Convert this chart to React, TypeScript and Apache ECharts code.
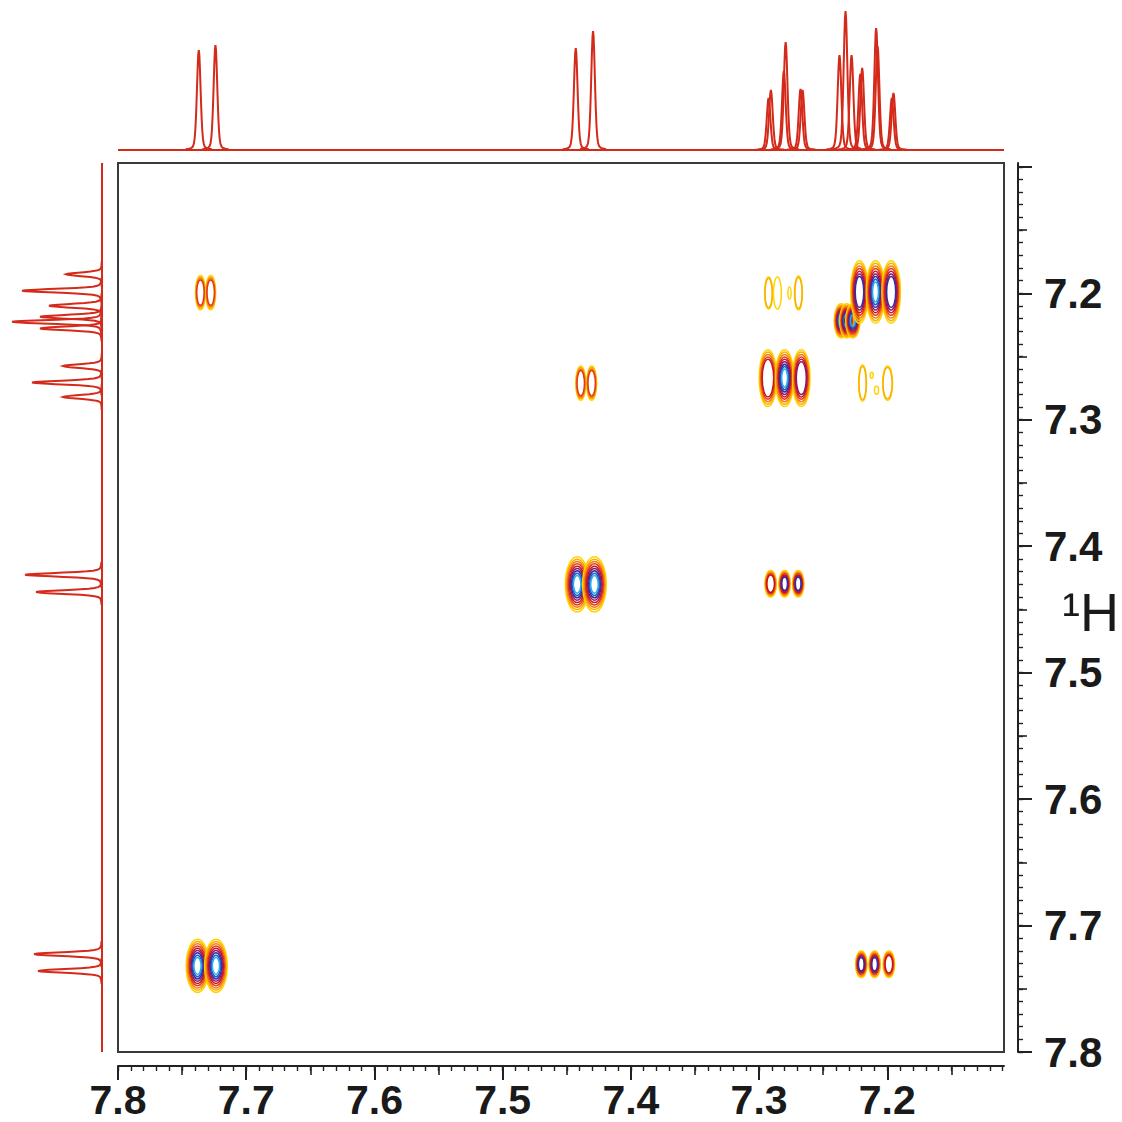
import React, { useEffect, useRef } from "react";
import * as echarts from "echarts";

// ---- axis ranges (ppm) ----
const X_MIN = 7.109;
const X_MAX = 7.8;
const Y_MIN = 7.097;
const Y_MAX = 7.8;

// ---- tick values ----
const xMajorTicks = [7.8, 7.7, 7.6, 7.5, 7.4, 7.3, 7.2];
const xLabelValues = [7.8, 7.7, 7.6, 7.5, 7.4, 7.3, 7.2];
const xMediumTicks = [7.75, 7.65, 7.55, 7.45, 7.35, 7.25, 7.15];
const xMinorTicks = Array.from({ length: 70 }, (_, i) => +(7.11 + i * 0.01).toFixed(2));
const yMajorTicks = [7.1, 7.2, 7.3, 7.4, 7.5, 7.6, 7.7, 7.8];
const yLabelValues = [7.2, 7.3, 7.4, 7.5, 7.6, 7.7, 7.8];
const yMediumTicks = [7.15, 7.25, 7.35, 7.45, 7.55, 7.65, 7.75];
const yMinorTicks = Array.from({ length: 71 }, (_, i) => +(7.1 + i * 0.01).toFixed(2));

// ---- 1D projection on top (F2): peak positions (ppm) and heights ----
const topPeakPpm = [
  7.737, 7.724, 7.443, 7.4295, 7.2926, 7.2908, 7.2807, 7.2793, 7.2677, 7.2661,
  7.2373, 7.2326, 7.2279, 7.2211, 7.2196, 7.2087, 7.2076, 7.1965, 7.1952,
];
const topPeakHeight = [
  100, 105, 102, 119, 52, 60, 79, 108, 61, 60,
  95, 139, 95, 76, 82, 122, 104, 52, 57,
];

// ---- 1D projection on the left (F1) ----
const leftPeakPpm = [
  7.185, 7.198, 7.2099, 7.2186, 7.2226, 7.2278, 7.2576, 7.2706, 7.282,
  7.4226, 7.4363, 7.7226, 7.7359,
];
const leftPeakHeight = [36, 80, 53, 62, 90, 62, 39, 70, 39, 77, 66, 68, 64];

const PEAK_HWHM = 0.0017; // ppm

// ---- 2D cross-peak components ----
const contourX = [
  // diagonal 7.73
  7.738, 7.7236,
  // diagonal 7.43
  7.4419, 7.4284,
  // cross 7.73 / 7.20
  7.7357, 7.7277,
  // cross 7.43 / 7.27
  7.4391, 7.4306,
  // diagonal 7.27
  7.2931, 7.2801, 7.2671,
  // cross 7.27 / 7.43
  7.291, 7.2801, 7.2695,
  // cross 7.20 / 7.73
  7.2203, 7.2099, 7.1988,
  // diagonal 7.22 components
  7.2359, 7.2316, 7.2269,
  // diagonal 7.20
  7.2217, 7.2092, 7.197,
  // weak cross 7.27 / 7.20
  7.2926, 7.2857, 7.2763, 7.2693,
  // weak cross 7.20 / 7.27
  7.2193, 7.2122, 7.2084, 7.1998,
];
const contourY = [
  7.7319, 7.7319,
  7.4302, 7.4302,
  7.1995, 7.1995,
  7.2711, 7.2711,
  7.2671, 7.2671, 7.2671,
  7.4297, 7.4297, 7.4297,
  7.7306, 7.7306, 7.7306,
  7.2218, 7.2218, 7.2218,
  7.199, 7.199, 7.199,
  7.1998, 7.1998, 7.1998, 7.1998,
  7.2711, 7.2648, 7.2767, 7.2711,
];
const contourLevels = [
  9, 9,
  9, 9,
  4, 4,
  4, 4,
  5, 9, 6,
  5, 7, 7,
  7, 7, 5,
  9, 10, 9,
  7, 9, 7,
  2, 1, 1, 2,
  2, 1, 1, 2,
];
const contourHalfWidth = [
  0.0088, 0.0088,
  0.0092, 0.0092,
  0.0039, 0.0039,
  0.0039, 0.0039,
  0.0068, 0.0072, 0.0068,
  0.0045, 0.0045, 0.0045,
  0.0045, 0.0045, 0.0045,
  0.0056, 0.0056, 0.0056,
  0.0068, 0.0072, 0.0072,
  0.0031, 0.0031, 0.0012, 0.0031,
  0.0031, 0.0012, 0.0016, 0.0039,
];
const contourHalfHeight = [
  0.021, 0.021,
  0.0218, 0.0218,
  0.0135, 0.0135,
  0.0135, 0.0135,
  0.0225, 0.0225, 0.0225,
  0.0105, 0.0105, 0.0105,
  0.0105, 0.0105, 0.0105,
  0.0135, 0.0135, 0.0135,
  0.0248, 0.0248, 0.0248,
  0.0127, 0.0127, 0.0048, 0.0135,
  0.0143, 0.0024, 0.0032, 0.0135,
];

const LEVEL_COLORS = [
  "#FFD500", "#FBAE00", "#F47A12", "#E23A1A", "#C8141E",
  "#8A1A6A", "#3A2AA0", "#1C5FC8", "#2AAEE6", "#111111",
];
const SPEC_COLOR = "#D42A1A";
const AXIS_COLOR = "#222222";
const FONT = "'Liberation Sans', Arial, sans-serif";

const T_SAMPLES = [
  -6, -4.5, -3.5, -2.8, -2.3, -1.9, -1.6, -1.3, -1, -0.75, -0.5, -0.25, 0,
  0.25, 0.5, 0.75, 1, 1.3, 1.6, 1.9, 2.3, 2.8, 3.5, 4.5, 6,
];

// mixed Gaussian/Lorentzian line shape profile (unit height), t in HWHM units
function profile(t: number) {
  return 0.75 * Math.exp(-Math.LN2 * t * t) + 0.25 / (1 + t * t);
}

function renderTopPeak(_params: any, api: any) {
  const ppm = api.value(0);
  const h = api.value(1);
  const base = api.coord([ppm, 0]);
  const g = api.size([PEAK_HWHM, 0])[0];
  const hp = api.size([0, h])[1];
  const pts = T_SAMPLES.map((t) => [base[0] + t * g, base[1] - hp * profile(t)]);
  return {
    type: "polyline",
    shape: { points: pts },
    style: { stroke: SPEC_COLOR, lineWidth: 2, fill: "none" },
  };
}

function renderLeftPeak(_params: any, api: any) {
  const h = api.value(0);
  const ppm = api.value(1);
  const base = api.coord([0, ppm]);
  const g = api.size([0, PEAK_HWHM])[1];
  const hp = api.size([h, 0])[0];
  const pts = T_SAMPLES.map((t) => [base[0] - hp * profile(t), base[1] + t * g]);
  return {
    type: "polyline",
    shape: { points: pts },
    style: { stroke: SPEC_COLOR, lineWidth: 2, fill: "none" },
  };
}

function renderContour(_params: any, api: any) {
  const c = api.coord([api.value(0), api.value(1)]);
  const n = api.value(2);
  const s = api.size([api.value(3), api.value(4)]);
  const children: any[] = [];
  for (let i = 0; i < n; i++) {
    const k = 1 - i * 0.085;
    children.push({
      type: "ellipse",
      shape: { cx: c[0], cy: c[1], rx: s[0] * k, ry: s[1] * k },
      style: { fill: "none", stroke: LEVEL_COLORS[i], lineWidth: 1.5 },
    });
  }
  return { type: "group", children };
}

function tickAxis(kind: "x" | "y", values: number[], len: number, width: number, withLine: boolean, labels?: number[]) {
  return {
    type: "value",
    gridIndex: 0,
    min: kind === "x" ? X_MIN : Y_MIN,
    max: kind === "x" ? X_MAX : Y_MAX,
    inverse: true,
    position: kind === "x" ? "bottom" : "right",
    offset: 14,
    axisLine: { show: withLine, onZero: false, lineStyle: { color: AXIS_COLOR, width: 2 } },
    axisTick: { show: true, inside: false, length: len, customValues: values, lineStyle: { color: AXIS_COLOR, width } },
    splitLine: { show: false },
    axisLabel: labels
      ? {
          show: true,
          customValues: labels,
          formatter: (v: number) => v.toFixed(1),
          fontFamily: FONT,
          fontWeight: "bold",
          fontSize: kind === "x" ? 41 : 42,
          lineHeight: kind === "x" ? 36 : 34,
          color: "#1a1a1a",
          margin: kind === "x" ? 16 : 26,
        }
      : { show: false },
  } as any;
}

export default function App() {
  const ref = useRef<HTMLDivElement>(null);
  useEffect(() => {
    if (!ref.current) return;
    const chart = echarts.init(ref.current, null, { renderer: "svg" });

    const contourData = contourX.map((x, i) => [
      x, contourY[i], contourLevels[i], contourHalfWidth[i], contourHalfHeight[i],
    ]);
    const topData = topPeakPpm.map((p, i) => [p, topPeakHeight[i]]);
    const leftData = leftPeakPpm.map((p, i) => [leftPeakHeight[i], p]);

    const option: any = {
      animation: false,
      backgroundColor: "#ffffff",
      grid: [
        { left: 118, top: 163, width: 886, height: 889, show: true, borderColor: "#3a3a3a", borderWidth: 2, backgroundColor: "transparent" },
        { left: 118, top: 5, width: 886, height: 145, show: false },
        { left: 7, top: 163, width: 95, height: 889, show: false },
      ],
      xAxis: [
        { type: "value", gridIndex: 0, min: X_MIN, max: X_MAX, inverse: true, show: false },
        tickAxis("x", xMajorTicks, 14, 2, true, xLabelValues),
        tickAxis("x", xMediumTicks, 9, 1.6, false),
        tickAxis("x", xMinorTicks, 5, 1.4, false),
        { type: "value", gridIndex: 1, min: X_MIN, max: X_MAX, inverse: true, show: false },
        { type: "value", gridIndex: 2, min: 0, max: 95, inverse: true, show: false },
      ],
      yAxis: [
        { type: "value", gridIndex: 0, min: Y_MIN, max: Y_MAX, inverse: true, show: false },
        tickAxis("y", yMajorTicks, 14, 2, true, yLabelValues),
        tickAxis("y", yMediumTicks, 9, 1.6, false),
        tickAxis("y", yMinorTicks, 5, 1.4, false),
        { type: "value", gridIndex: 1, min: 0, max: 145, show: false },
        { type: "value", gridIndex: 2, min: Y_MIN, max: Y_MAX, inverse: true, show: false },
      ],
      series: [
        {
          type: "custom",
          name: "COSY",
          coordinateSystem: "cartesian2d",
          xAxisIndex: 0,
          yAxisIndex: 0,
          clip: true,
          renderItem: renderContour,
          data: contourData,
          silent: true,
        },
        {
          type: "line",
          xAxisIndex: 4,
          yAxisIndex: 4,
          data: [[X_MIN, 0], [X_MAX, 0]],
          symbol: "none",
          lineStyle: { color: SPEC_COLOR, width: 2 },
          silent: true,
        },
        {
          type: "custom",
          xAxisIndex: 4,
          yAxisIndex: 4,
          renderItem: renderTopPeak,
          data: topData,
          silent: true,
        },
        {
          type: "line",
          xAxisIndex: 5,
          yAxisIndex: 5,
          data: [[0, Y_MIN], [0, Y_MAX]],
          symbol: "none",
          lineStyle: { color: SPEC_COLOR, width: 2 },
          silent: true,
        },
        {
          type: "custom",
          xAxisIndex: 5,
          yAxisIndex: 5,
          renderItem: renderLeftPeak,
          data: leftData,
          silent: true,
        },
      ],
      graphic: [
        {
          type: "text",
          x: 1062,
          y: 612,
          style: {
            text: "¹H",
            fontFamily: FONT,
            fontSize: 54,
            fill: "#1a1a1a",
            align: "left",
            verticalAlign: "middle",
          },
        },
      ],
    };
    chart.setOption(option);
    return () => chart.dispose();
  }, []);
  return (
    <div
      ref={ref}
      style={{ position: "absolute", left: 0, top: 0, width: 1122, height: 1122 }}
    />
  );
}
